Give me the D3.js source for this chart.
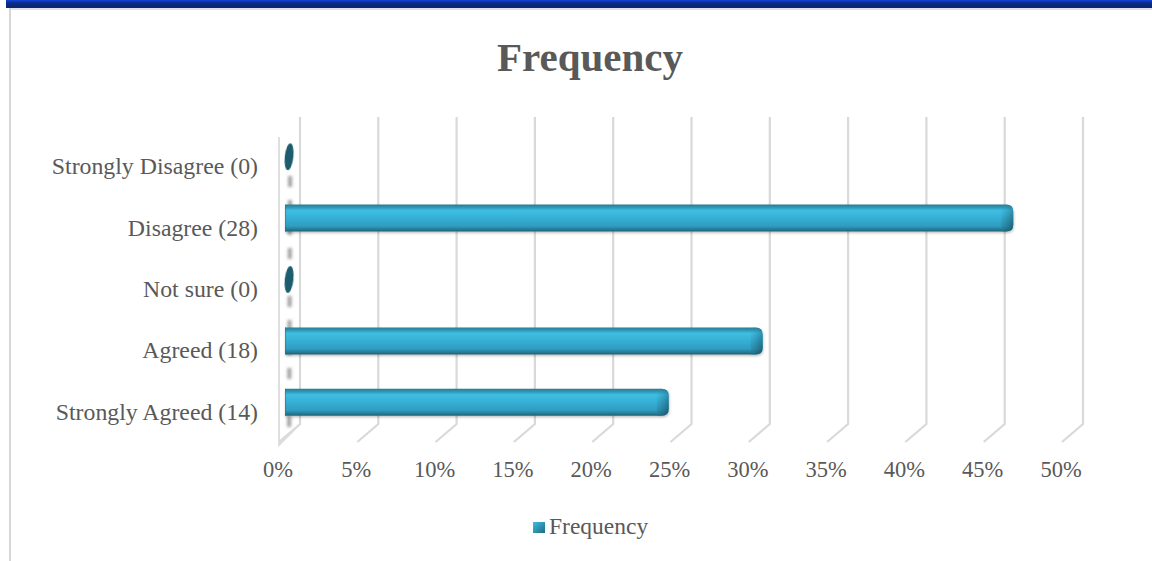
<!DOCTYPE html>
<html>
<head>
<meta charset="utf-8">
<script src="https://cdn.jsdelivr.net/npm/d3@7"></script>
<style>
  html, body { margin: 0; padding: 0; background: #fff; }
  svg { display: block; }
</style>
</head>
<body>
<svg id="chart" width="1152" height="561"></svg>
<script>
// Survey responses, listed top to bottom
const categories = ["Strongly Disagree (0)", "Disagree (28)", "Not sure (0)", "Agreed (18)", "Strongly Agreed (14)"];
// Share of respondents, in percent
const frequency = [0, 46.5, 0, 30.5, 24.5];
const tickValues = [0, 5, 10, 15, 20, 25, 30, 35, 40, 45, 50];
const seriesName = "Frequency";
const chartTitle = "Frequency";

const svg = d3.select("#chart");
const W = 1152, H = 561;
const textColor = "#595959";
const font = "'Liberation Serif', 'Times New Roman', serif";

const defs = svg.append("defs");

// header strip gradient
const hdr = defs.append("linearGradient").attr("id", "hdr").attr("x1", 0).attr("x2", 0).attr("y1", 0).attr("y2", 1);
hdr.append("stop").attr("offset", "0%").attr("stop-color", "#1447d6");
hdr.append("stop").attr("offset", "22%").attr("stop-color", "#0c35a8");
hdr.append("stop").attr("offset", "45%").attr("stop-color", "#0a2a80");
hdr.append("stop").attr("offset", "100%").attr("stop-color", "#0a2670");

// bar body shading (cylinder-like)
const barGrad = defs.append("linearGradient").attr("id", "barGrad").attr("x1", 0).attr("x2", 0).attr("y1", 0).attr("y2", 1);
[["0%", "#2a7b93"], ["10%", "#2f95b5"], ["22%", "#3ebfe3"], ["50%", "#36afd4"], ["80%", "#2f9cc0"], ["92%", "#277a93"], ["100%", "#1e6275"]]
  .forEach(([o, c]) => barGrad.append("stop").attr("offset", o).attr("stop-color", c));

// darker shading for the rounded end cap
const capGrad = defs.append("linearGradient").attr("id", "capGrad").attr("x1", 0).attr("x2", 1).attr("y1", 0).attr("y2", 1);
capGrad.append("stop").attr("offset", "0%").attr("stop-color", "#2f9cc0").attr("stop-opacity", 0);
capGrad.append("stop").attr("offset", "60%").attr("stop-color", "#23718a").attr("stop-opacity", 0.6);
capGrad.append("stop").attr("offset", "100%").attr("stop-color", "#174f60").attr("stop-opacity", 0.9);

// legend swatch
const swGrad = defs.append("linearGradient").attr("id", "swGrad").attr("x1", 0).attr("x2", 1).attr("y1", 0).attr("y2", 1);
swGrad.append("stop").attr("offset", "0%").attr("stop-color", "#3fbfe3");
swGrad.append("stop").attr("offset", "100%").attr("stop-color", "#1f6a80");

const soft = defs.append("filter").attr("id", "soft").attr("filterUnits", "userSpaceOnUse")
  .attr("x", 0).attr("y", 0).attr("width", W).attr("height", H);
soft.append("feGaussianBlur").attr("stdDeviation", 0.6);

const blur = defs.append("filter").attr("id", "blur").attr("filterUnits", "userSpaceOnUse")
  .attr("x", 0).attr("y", 0).attr("width", W).attr("height", H);
blur.append("feGaussianBlur").attr("stdDeviation", 1.5);

const shadow = defs.append("filter").attr("id", "barShadow").attr("x", "-5%").attr("y", "-30%").attr("width", "110%").attr("height", "170%");
shadow.append("feDropShadow").attr("dx", 0.5).attr("dy", 1.5).attr("stdDeviation", 1.2)
  .attr("flood-color", "#000").attr("flood-opacity", 0.25);

// ---- frame ----
svg.append("rect").attr("x", 6).attr("y", 0).attr("width", W - 6).attr("height", 8).attr("fill", "url(#hdr)");
svg.append("line").attr("x1", 10).attr("x2", W).attr("y1", 9).attr("y2", 9)
  .attr("stroke", "#dfe2ea").attr("stroke-width", 2);
svg.append("line").attr("x1", 10).attr("x2", 10).attr("y1", 8).attr("y2", H)
  .attr("stroke", "#d6d6d6").attr("stroke-width", 2);

// ---- title ----
svg.append("text").attr("x", 590).attr("y", 71).attr("text-anchor", "middle")
  .attr("font-family", font).attr("font-weight", "bold").attr("font-size", 41)
  .attr("fill", textColor).text(chartTitle);

// ---- 3D geometry ----
const depthDx = -21, depthDy = 20;     // offset from back wall to front edge
const wallTop = 117, wallBottom = 424;
const xBack = d3.scaleLinear().domain([0, 50]).range([300, 1083]);
const xFront = v => xBack(v) + depthDx;
const barDepth = 0.71;                 // bar plane position between back (0) and front (1)
const xBar = d3.scaleLinear().domain([0, 50]).range([xBack(0) + depthDx * barDepth, xBack(50) + depthDx * barDepth]);
const yBand = d3.scaleBand().domain(categories).range([126, 433]);
const barH = 27;

// gridlines on the back wall, bending forward across the floor
const grid = svg.append("g").attr("filter", "url(#soft)");
tickValues.forEach(t => {
  grid.append("path")
    .attr("d", `M${xBack(t)},${wallTop} L${xBack(t)},${wallBottom} L${xFront(t)},${wallBottom + depthDy - 2}`)
    .attr("fill", "none").attr("stroke", "#d9d9d9").attr("stroke-width", 2.2);
});
// front edge of the side wall
grid.append("path")
  .attr("d", `M${xFront(0)},${wallTop + depthDy} L${xFront(0)},${wallBottom + depthDy + 1} L${xBack(0)},${wallBottom}`)
  .attr("fill", "none").attr("stroke", "#dcdcdc").attr("stroke-width", 1.8);

// bar shadows cast on the side wall
svg.append("path")
  .attr("d", `M${xBar(0) + 5},176 L${xBar(0) + 4},440`)
  .attr("fill", "none")
  .attr("stroke", "#7a7a7a").attr("stroke-width", 4).attr("stroke-opacity", 0.7)
  .attr("stroke-dasharray", "11,13").attr("filter", "url(#blur)");

// ---- bars ----
const bars = svg.append("g");
categories.forEach((c, i) => {
  const v = frequency[i];
  const cy = yBand(c) + yBand.bandwidth() / 2;
  const y0 = cy - barH / 2;
  if (v === 0) {
    bars.append("ellipse")
      .attr("cx", xBar(0) + 4).attr("cy", cy)
      .attr("rx", 4.3).attr("ry", barH / 2)
      .attr("transform", `rotate(6 ${xBar(0) + 4} ${cy})`)
      .attr("fill", "#1b5b6e").attr("filter", "url(#soft)");
    return;
  }
  const x0 = xBar(0), x1 = xBar(v);
  const g = bars.append("g").attr("filter", "url(#barShadow)");
  g.append("path")
    .attr("d", `M${x0},${y0} H${x1 - 7} Q${x1},${y0} ${x1},${y0 + 7} V${y0 + barH - 7} Q${x1},${y0 + barH} ${x1 - 7},${y0 + barH} H${x0} Z`)
    .attr("fill", "url(#barGrad)");
  g.append("path")
    .attr("d", `M${x1 - 12},${y0} H${x1 - 7} Q${x1},${y0} ${x1},${y0 + 7} V${y0 + barH - 7} Q${x1},${y0 + barH} ${x1 - 7},${y0 + barH} H${x1 - 12} Z`)
    .attr("fill", "url(#capGrad)");
  g.append("line").attr("x1", x0 + 0.5).attr("x2", x0 + 0.5).attr("y1", y0).attr("y2", y0 + barH)
    .attr("stroke", "#1f6275").attr("stroke-opacity", 0.5).attr("stroke-width", 1);
});

// ---- category labels ----
svg.append("g").selectAll("text").data(categories).join("text")
  .attr("x", 258)
  .attr("y", d => yBand(d) + yBand.bandwidth() / 2 + 17.5)
  .attr("text-anchor", "end")
  .attr("font-family", font).attr("font-size", 23.8)
  .attr("fill", textColor)
  .text(d => d);

// ---- value axis labels ----
const fmt = d3.format(".0%");
svg.append("g").selectAll("text").data(tickValues).join("text")
  .attr("x", d => xFront(d) - 1)
  .attr("y", 477)
  .attr("text-anchor", "middle")
  .attr("font-family", font).attr("font-size", 22.5)
  .attr("fill", textColor)
  .text(d => fmt(d / 100));

// ---- legend ----
const lg = svg.append("g");
lg.append("rect").attr("x", 533).attr("y", 522).attr("width", 12).attr("height", 11)
  .attr("fill", "url(#swGrad)");
lg.append("text").attr("x", 549).attr("y", 534)
  .attr("font-family", font).attr("font-size", 23.5)
  .attr("fill", textColor).text(seriesName);
</script>
</body>
</html>
